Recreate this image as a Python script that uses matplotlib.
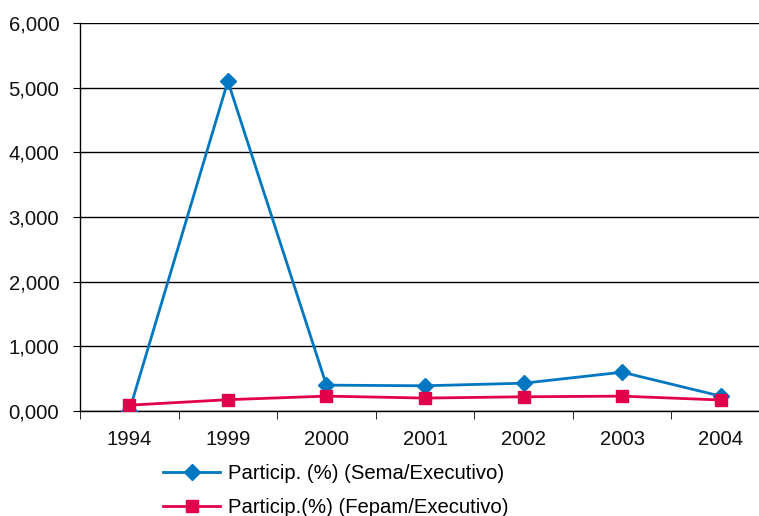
import numpy as np
import matplotlib.pyplot as plt
from matplotlib.ticker import FuncFormatter

plt.rcParams['font.family'] = ['Liberation Sans', 'DejaVu Sans']

years = ["1994", "1999", "2000", "2001", "2002", "2003", "2004"]
sema = [0.00, 5.10, 0.40, 0.39, 0.43, 0.60, 0.23]
fepam = [0.09, 0.175, 0.23, 0.20, 0.22, 0.23, 0.17]

BLUE = "#0077C0"
RED = "#E2004A"
FS = 14.6

fig = plt.figure(figsize=(7.59, 5.16), dpi=100)
ax = fig.add_axes([80 / 759, 105 / 516, 690 / 759, 388 / 516])

x = np.arange(len(years))
ax.plot(x, sema, color=BLUE, lw=2, marker="D", ms=8, label="Particip. (%) (Sema/Executivo)", zorder=3)
ax.plot(x, fepam, color=RED, lw=2, marker="s", ms=8.5, label="Particip.(%) (Fepam/Executivo)", zorder=4)

ax.set_xlim(-0.5, len(years) - 0.5)
ax.set_ylim(0, 6)
ax.set_yticks(np.arange(0, 7, 1))
ax.yaxis.set_major_formatter(FuncFormatter(lambda v, p: f"{v:.3f}".replace(".", ",")))
ax.yaxis.grid(True, color="black", lw=1)
ax.set_axisbelow(True)

ax.set_xticks(x)
ax.set_xticklabels(years)
ax.set_xticks(np.arange(-0.5, len(years), 1), minor=True)
ax.tick_params(axis="x", which="major", length=0, pad=14)
ax.tick_params(axis="x", which="minor", length=6, direction="out", color="black")
ax.tick_params(axis="y", length=5, color="black", pad=10)
ax.tick_params(labelsize=FS, labelcolor="#111111")

for s in ["top", "right"]:
    ax.spines[s].set_visible(False)
for s in ["left", "bottom"]:
    ax.spines[s].set_color("black")
    ax.spines[s].set_linewidth(1)

fig.legend(loc="upper left", bbox_to_anchor=(155 / 759, 1 - 456 / 516), frameon=False,
           fontsize=FS, handlelength=2.8, labelspacing=0.75, handletextpad=0.4,
           borderaxespad=0)

fig.savefig("out.png", dpi=100)
